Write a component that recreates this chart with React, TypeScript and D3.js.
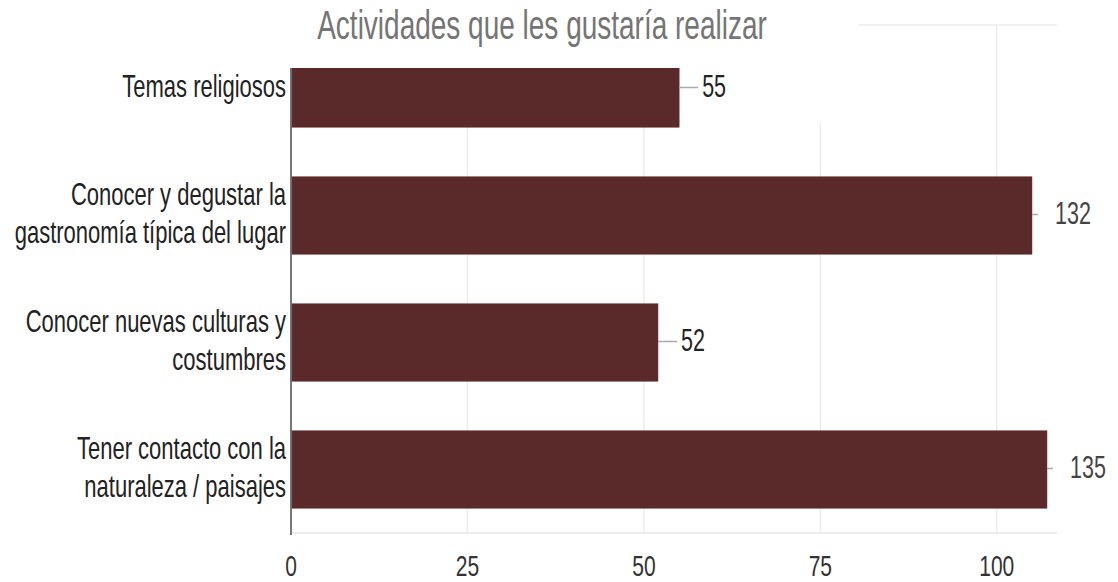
import React from "react";
import * as d3 from "d3";

const title = "Actividades que les gustaría realizar";
const categories = [
  "Temas religiosos",
  "Conocer y degustar la\ngastronomía típica del lugar",
  "Conocer nuevas culturas y\ncostumbres",
  "Tener contacto con la\nnaturaleza / paisajes",
];
const values = [55, 132, 52, 135];
const tickValues = [0, 25, 50, 75, 100];

const W = 1118;
const H = 582;
const FONT = "'Liberation Sans', Arial, sans-serif";
const SY = 1.42; // vertical stretch of the reference's lettering

function SText({ x, y, size, fill, anchor, children }: any) {
  return (
    <text
      transform={`translate(${x},${y}) scale(1,${SY})`}
      fontSize={size}
      fill={fill}
      textAnchor={anchor}
      dominantBaseline="central"
      fontFamily={FONT}
    >
      {children}
    </text>
  );
}

export default function App() {
  const plotTop = 25;
  const plotBottom = 533;
  const x = d3
    .scaleLinear()
    .domain([0, 104, 131, 137])
    .range([291, 1025, 1027, 1057]);
  const y = d3
    .scaleBand<string>()
    .domain(categories)
    .range([plotTop, plotBottom])
    .paddingInner(0.39)
    .paddingOuter(0.195);
  const x0 = x(0);
  const xEnd = x(137);

  return (
    <svg
      width={W}
      height={H}
      style={{ position: "absolute", left: 0, top: 0, background: "#fff" }}
    >
      {/* grid */}
      {tickValues
        .filter((t) => t > 0)
        .map((t) => (
          <line
            key={t}
            x1={x(t)}
            x2={x(t)}
            y1={plotTop}
            y2={plotBottom}
            stroke="#ececec"
            strokeWidth={1.5}
          />
        ))}
      <line x1={x0} x2={xEnd} y1={plotTop} y2={plotTop} stroke="#f0f0f0" strokeWidth={2} />
      <line x1={x0} x2={xEnd} y1={plotBottom} y2={plotBottom} stroke="#ececec" strokeWidth={2} />
      <line x1={x0} x2={x0} y1={plotTop} y2={plotBottom + 2} stroke="#777" strokeWidth={2} />

      {/* bars */}
      {categories.map((c, i) => (
        <rect
          key={c}
          x={x0 + 1}
          y={y(c)}
          width={x(values[i]) - x0 - 1}
          height={y.bandwidth()}
          fill="#5a2929"
          stroke="#6e3c3c"
          strokeWidth={0.5}
        />
      ))}

      {/* white areas of the reference (title zone) */}
      <rect x={280} y={0} width={859 - 280} height={68} fill="#fff" />
      <rect x={x(55) + 2} y={68} width={859 - x(55) - 2} height={55} fill="#fff" />

      {/* value labels */}
      {categories.map((c, i) => {
        const end = x(values[i]);
        const cy = (y(c) as number) + y.bandwidth() / 2;
        const beyond = values[i] > 104;
        return (
          <g key={"v" + c}>
            <line
              x1={end}
              x2={end + (beyond ? 6 : 19)}
              y1={cy - 1}
              y2={cy - 1}
              stroke="#aaa"
              strokeWidth={1.5}
            />
            <SText x={end + 23} y={cy - 2} size={21.5} fill={beyond ? "#444" : "#222"} anchor="start">
              {values[i]}
            </SText>
          </g>
        );
      })}

      {/* category labels */}
      {categories.map((c) => {
        const lines = c.split("\n");
        const cy = (y(c) as number) + y.bandwidth() / 2 - 2;
        const lh = 38;
        return (
          <g key={"c" + c}>
            {lines.map((ln, j) => (
              <SText
                key={j}
                x={286}
                y={cy + (j - (lines.length - 1) / 2) * lh}
                size={22}
                fill="#222"
                anchor="end"
              >
                {ln}
              </SText>
            ))}
          </g>
        );
      })}

      {/* x tick labels */}
      {tickValues.map((t) => (
        <SText key={"t" + t} x={x(t)} y={566} size={21} fill="#333" anchor="middle">
          {t}
        </SText>
      ))}

      {/* title */}
      <SText x={542} y={25} size={28} fill="#757575" anchor="middle">
        {title}
      </SText>
    </svg>
  );
}
